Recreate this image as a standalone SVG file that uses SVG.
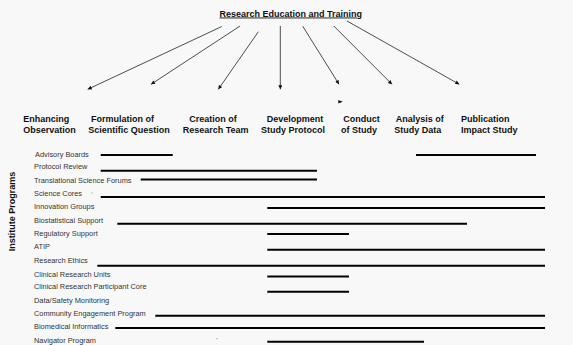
<svg xmlns="http://www.w3.org/2000/svg" width="573" height="345" viewBox="0 0 573 345">
<style>
.bg{fill:#f8f8f8}
.title{font-family:"Liberation Sans",Arial,sans-serif;font-size:9px;font-weight:bold;fill:#111;text-decoration:underline}
.col{font-family:"Liberation Sans",Arial,sans-serif;font-size:9px;font-weight:bold;fill:#111}
.side{font-family:"Liberation Sans",Arial,sans-serif;font-size:9px;font-weight:bold;fill:#111}
.lbl{font-family:"Liberation Sans",Arial,sans-serif;font-size:7.4px;fill:#333}
.bar{stroke:#000;stroke-width:2;fill:none}
.arr{stroke:#222;stroke-width:0.8;fill:none;marker-end:url(#ah)}
.head{fill:#111}
.speck{fill:#888}
</style>
<defs>
<marker id="ah" viewBox="0 0 10 10" refX="10" refY="5" markerWidth="5" markerHeight="4" markerUnits="userSpaceOnUse" orient="auto">
<path d="M0,0 L10,5 L0,10 z" fill="#111"/>
</marker>
</defs>
<rect class="bg" x="0" y="0" width="573" height="345"/>

<g id="title">
<text class="title" x="290.7" y="16.5" text-anchor="middle">Research Education and Training</text>
</g>

<g id="connectors">
<line class="arr" x1="221.8" y1="26.5" x2="87.7" y2="89.3"/>
<line class="arr" x1="240.1" y1="26" x2="151" y2="84.3"/>
<line class="arr" x1="258.4" y1="31.7" x2="218.3" y2="89.3"/>
<line class="arr" x1="280.3" y1="26" x2="280.3" y2="89.3"/>
<line class="arr" x1="302.8" y1="26.3" x2="339" y2="84.3"/>
<line class="arr" x1="333.8" y1="26" x2="392" y2="84.3"/>
<line class="arr" x1="347" y1="21" x2="459.3" y2="84.3"/>
<polygon class="head" points="338.3,99.9 342.8,101.7 338.3,103.5"/>
</g>

<g id="col-enhancing">
<text class="col" x="23.3" y="122.3">Enhancing</text>
<text class="col" x="23.3" y="132.8">Observation</text>
</g>
<g id="col-formulation">
<text class="col" x="91" y="122.3">Formulation of</text>
<text class="col" x="88.3" y="132.8">Scientific Question</text>
</g>
<g id="col-creation">
<text class="col" x="189.3" y="122.3">Creation of</text>
<text class="col" x="182.7" y="132.8">Research Team</text>
</g>
<g id="col-development">
<text class="col" x="266.7" y="122.3">Development</text>
<text class="col" x="261" y="132.8">Study Protocol</text>
</g>
<g id="col-conduct">
<text class="col" x="343.3" y="122.3">Conduct</text>
<text class="col" x="341" y="132.8">of Study</text>
</g>
<g id="col-analysis">
<text class="col" x="395.7" y="122.3">Analysis of</text>
<text class="col" x="394.3" y="132.8">Study Data</text>
</g>
<g id="col-publication">
<text class="col" x="461" y="122.3">Publication</text>
<text class="col" x="461" y="132.8">Impact Study</text>
</g>

<g id="side-label">
<text class="side" transform="translate(15.3,211.5) rotate(-90)" text-anchor="middle">Institute Programs</text>
</g>

<g id="row-advisory">
<text class="lbl" x="35" y="156.5">Advisory Boards</text>
<line class="bar" x1="100.7" y1="155" x2="172.7" y2="155"/>
<line class="bar" x1="416" y1="155" x2="536" y2="155"/>
</g>
<g id="row-protocol">
<text class="lbl" x="34" y="169">Protocol Review</text>
<line class="bar" x1="100.7" y1="170.8" x2="317" y2="170.8"/>
</g>
<g id="row-translational">
<text class="lbl" x="34" y="183">Translational Science Forums</text>
<line class="bar" x1="140.7" y1="179.5" x2="317" y2="179.5"/>
</g>
<g id="row-science-cores">
<text class="lbl" x="34" y="196">Science Cores</text>
<rect class="speck" x="91.5" y="192.5" width="1" height="1"/>
<line class="bar" x1="100.7" y1="197" x2="545" y2="197"/>
</g>
<g id="row-innovation">
<text class="lbl" x="34" y="209">Innovation Groups</text>
<line class="bar" x1="267.3" y1="208" x2="545" y2="208"/>
</g>
<g id="row-biostat">
<text class="lbl" x="34" y="223">Biostatistical Support</text>
<line class="bar" x1="117.3" y1="223.7" x2="467" y2="223.7"/>
</g>
<g id="row-regulatory">
<text class="lbl" x="34" y="236">Regulatory Support</text>
<line class="bar" x1="267.3" y1="234" x2="349" y2="234"/>
</g>
<g id="row-atip">
<text class="lbl" x="34" y="248.5">ATIP</text>
<line class="bar" x1="267.3" y1="249.8" x2="545" y2="249.8"/>
</g>
<g id="row-ethics">
<text class="lbl" x="34" y="262.5">Research Ethics</text>
<line class="bar" x1="97.3" y1="265.7" x2="545" y2="265.7"/>
</g>
<g id="row-cru">
<text class="lbl" x="34" y="276.5">Clinical Research Units</text>
<line class="bar" x1="267.3" y1="276.5" x2="349" y2="276.5"/>
</g>
<g id="row-crpc">
<text class="lbl" x="34" y="289">Clinical Research Participant Core</text>
<line class="bar" x1="267.3" y1="291.8" x2="349" y2="291.8"/>
</g>
<g id="row-dsm">
<text class="lbl" x="34" y="302.5">Data/Safety Monitoring</text>
</g>
<g id="row-community">
<text class="lbl" x="34" y="315.5">Community Engagement Program</text>
<line class="bar" x1="155.3" y1="315.8" x2="545" y2="315.8"/>
</g>
<g id="row-biomedical">
<text class="lbl" x="34" y="329">Biomedical Informatics</text>
<line class="bar" x1="115.3" y1="328" x2="545" y2="328"/>
</g>
<g id="row-navigator">
<text class="lbl" x="34" y="342.5">Navigator Program</text>
<rect class="speck" x="216.5" y="338.2" width="1" height="1"/>
<line class="bar" x1="267.3" y1="341.7" x2="424" y2="341.7"/>
</g>
</svg>
